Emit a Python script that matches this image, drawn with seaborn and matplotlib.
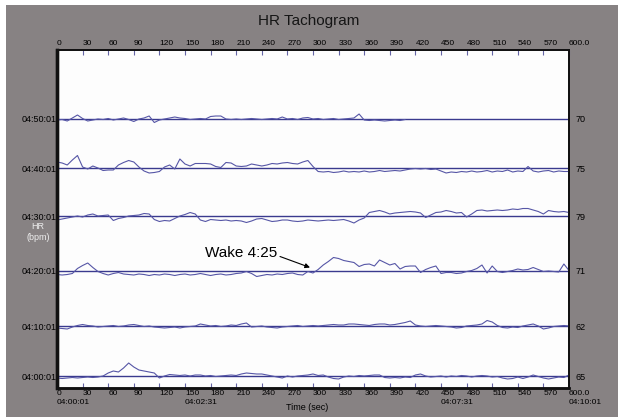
import numpy as np
import pandas as pd
import matplotlib
matplotlib.use("Agg")
import matplotlib.pyplot as plt
import matplotlib.transforms as mtransforms
from matplotlib.patches import Rectangle
import seaborn as sns

# ---------------- data ----------------
row_labels = ["04:50:01", "04:40:01", "04:30:01", "04:20:01", "04:10:01", "04:00:01"]
base_hr = [70, 75, 79, 71, 62, 65]
durations = [408, 600, 600, 600, 600, 600]

hr_0450 = [69, 69.5, 68, 71, 74, 70.5, 68, 69, 70, 69.5,
           70.5, 69, 70, 71, 69.5, 67.5, 70, 71, 73, 66.5,
           69, 70, 71, 72, 71, 70.5, 69.5, 70, 70.5, 70,
           72.5, 73, 73, 70, 69.5, 70, 69.5, 70, 70.5, 70,
           69.5, 70, 70.5, 70, 72, 70, 70.5, 69.5, 71, 71.5,
           70, 70.5, 69.5, 70, 70.5, 69.5, 70, 70.5, 71, 75,
           69, 68.5, 69, 68.5, 68, 68.5, 69, 68.5, 69.5]
hr_0440 = [81, 80, 78, 83, 87.5, 76, 74, 77, 75, 72.5,
           73, 73, 78, 80.5, 82.5, 81, 76, 72, 70, 70.5,
           71.5, 76, 78, 74, 84, 79, 77, 79.5, 79.5, 79.5,
           79, 76.5, 75.5, 80.5, 80, 77, 76.5, 77, 79, 78,
           77, 78, 79.5, 79, 80, 80.5, 79.5, 79, 81, 82.5,
           76.5, 71.5, 71, 71.5, 70.5, 71, 72, 71, 71.5, 71,
           72, 71, 71.5, 72.5, 71.5, 72, 72.5, 72, 73, 74,
           74.5, 74, 74.5, 73.5, 74, 72, 70, 71, 70.5, 71.5,
           71, 72, 71, 71.5, 72.5, 71, 72, 71.5, 73, 71,
           72, 71.5, 76.5, 72, 71, 72, 72.5, 71, 72, 71.5,
           71.5]
hr_0430 = [75, 76, 77, 78, 79, 78, 80, 81, 79, 79.5,
           80, 74.5, 76.5, 77.5, 79, 79.5, 80, 81.5, 81, 75.5,
           73.5, 74.5, 74, 76.5, 79, 80.5, 82.5, 81, 75, 73.5,
           75.5, 75, 74.5, 75, 74, 74.5, 74, 72.5, 74, 76,
           76.5, 75, 73.5, 74, 75, 75, 74, 73.5, 74, 75,
           74.5, 74, 74.5, 75, 74.5, 75, 75.5, 74, 72, 75,
           77, 82.5, 83.5, 84.5, 83, 81, 82, 82.5, 83, 83.5,
           83, 82, 77.5, 80, 82.5, 83, 84.5, 83.5, 82, 82.5,
           78, 81, 84.5, 85, 84, 84.5, 85, 84.5, 85, 86,
           85.5, 86.5, 86.5, 85, 83.5, 81, 84.5, 83.5, 83, 83.5,
           82.5]
hr_0420 = [67, 66.5, 67, 68, 73, 76, 78.5, 74, 70, 68,
           66.5, 68, 69, 67.5, 67, 66.5, 67.5, 67, 66, 67,
           66.5, 67.5, 67, 66, 67, 67.5, 66.5, 67, 68, 67,
           66, 67, 67.5, 66.5, 67, 68, 68.5, 70, 68, 65,
           66, 67, 66.5, 67.5, 67, 68, 68.5, 67, 66.5, 70,
           68.5, 72, 76.5, 80, 84, 83, 81, 80, 79, 75,
           77, 77.5, 75.5, 81.5, 79, 76.5, 78, 72.5, 75, 75.5,
           75.5, 69, 72, 74, 75.5, 68, 69, 69, 68, 68.5,
           70, 71, 73, 76.5, 68.5, 75.5, 70, 69, 70, 71,
           72.5, 71.5, 72, 74, 72, 70, 70.5, 70, 69.5, 77.5,
           71]
hr_0410 = [60, 59.5, 59, 61, 62.5, 63.5, 62.5, 62, 61, 61.5,
           62, 62.5, 61.5, 62, 63, 63.5, 62.5, 61.5, 62, 61,
           60.5, 60, 60.5, 61, 60, 61, 61.5, 62, 64, 63,
           62, 62.5, 61.5, 62, 63, 62.5, 64, 65, 61, 61.5,
           62, 61, 60.5, 60, 61, 61.5, 62, 62.5, 61.5, 62,
           62.5, 62, 62.5, 63, 63.5, 63, 63, 64, 64, 63.5,
           63, 62.5, 63.5, 64, 64, 63, 63.5, 64.5, 65.5, 67,
           63, 62, 61.5, 62, 62.5, 62, 61.5, 61, 60, 60.5,
           62, 62.5, 63, 64, 67.5, 66, 62.5, 60.5, 60, 61,
           60.5, 62, 63, 64, 62, 59, 60, 61.5, 62, 62.5,
           62]
hr_0400 = [63, 62.5, 63, 63.5, 63, 63.5, 64, 63.5, 64, 65,
           68, 70, 69, 73, 78, 74, 71, 70, 69, 68,
           63, 65, 66.5, 66, 65.5, 66, 65, 66, 66, 65,
           65.5, 64.5, 65, 65.5, 66, 65.5, 67, 68, 67.5, 67,
           67, 66, 65, 64, 63, 65, 64, 65, 65.5, 66,
           67, 65.5, 66, 64, 62.5, 62, 64, 65, 64.5, 65.5,
           65, 65.5, 66, 66, 63.5, 63, 63.5, 63, 64, 63.5,
           66, 67, 65, 64, 64.5, 65, 64, 65, 64.5, 65.5,
           65, 64, 65, 65.5, 65, 64, 64.5, 63, 62, 62.5,
           64, 62.5, 64, 66, 64.5, 63, 62, 63, 64, 63.5,
           66]
series = [hr_0450, hr_0440, hr_0430, hr_0420, hr_0410, hr_0400]

x_ticks = list(range(0, 601, 30))
tick_labels = [str(t) for t in x_ticks[:-1]] + ["600.0"]
clock_ticks = [0, 150, 450, 600]
clock_labels = ["04:00:01", "04:02:31", "04:07:31", "04:10:01"]

# ---------------- layout / style ----------------
row_pos = [269, 220, 172, 117.5, 62, 12]   # vertical position of each row (px units)
px_per_bpm = 1.0
trace_color = "#5656a6"
base_color = "#3a3a8e"
tick_color = "#6464a4"

sns.set_theme(style="white")
plt.rcParams["font.family"] = ["Liberation Sans", "DejaVu Sans"]

frames = []
for lab, b, dur, vals, pos in zip(row_labels, base_hr, durations, series, row_pos):
    t = np.linspace(0, dur, len(vals))
    v = np.asarray(vals, dtype=float)
    frames.append(pd.DataFrame({"time": t, "hr": v, "row": lab,
                                "y": pos + (v - b) * px_per_bpm}))
df = pd.concat(frames, ignore_index=True)

W, H = 618, 417
fig = plt.figure(figsize=(W / 100, H / 100), dpi=100)
fig.patch.set_facecolor("white")
fig.patches.append(Rectangle((6 / W, 0), 1 - 6 / W, 1 - 5 / H, transform=fig.transFigure,
                             facecolor="#878283", edgecolor="none", zorder=-10))

L, R, T, B = 57, 569, 50, 388
ax = fig.add_axes([L / W, 1 - B / H, (R - L) / W, (B - T) / H])
ax.set_facecolor("#fdfdfd")

for pos in row_pos:
    ax.axhline(pos, color=base_color, lw=1.0, zorder=2)

sns.lineplot(data=df, x="time", y="y", units="row", estimator=None,
             color=trace_color, lw=0.8, ax=ax, zorder=3)

ax.set_xlim(0, 600)
ax.set_ylim(0, B - T)
ax.set_xlabel("")
ax.set_ylabel("")

# bottom x tick labels
ax.set_xticks(x_ticks)
ax.set_xticklabels(tick_labels, ha="left")
ax.set_xticks([150, 450], minor=True)
ax.tick_params(axis="x", which="major", direction="in", length=3.8, width=0.8,
               color=tick_color, top=True, bottom=True, labeltop=False, labelbottom=True,
               labelsize=6, pad=1.5, labelcolor="black")
ax.tick_params(axis="x", which="minor", direction="in", length=8.5, width=0.8,
               color=tick_color, top=True, bottom=True)

# clock times under selected ticks
btrans = mtransforms.blended_transform_factory(ax.transData, fig.transFigure)
for t, lab in zip(clock_ticks, clock_labels):
    ax.text(t, 1 - 402.5 / H, lab, transform=btrans, ha="left", va="center",
            fontsize=6, color="black", clip_on=False)

# top x tick labels
sec = ax.secondary_xaxis("top")
sec.set_xticks(x_ticks)
sec.set_xticklabels(tick_labels, ha="left")
sec.tick_params(axis="x", length=0, pad=2, labelsize=6, labelcolor="black")
sec.spines["top"].set_visible(False)

# left row labels
ax.set_yticks(row_pos)
ax.set_yticklabels(row_labels)
ax.tick_params(axis="y", length=0, pad=0, labelsize=6.5, labelcolor="black")

# right base-HR labels
ax2 = ax.twinx()
ax2.set_ylim(ax.get_ylim())
ax2.set_yticks(row_pos)
ax2.set_yticklabels([str(b) for b in base_hr])
ax2.tick_params(axis="y", length=0, pad=4.5, labelsize=6.5, labelcolor="black")
ax2.grid(False)
ax.grid(False)

for a in (ax, ax2):
    for s in a.spines.values():
        s.set_color("#111111")
        s.set_linewidth(1.3)
    a.spines["left"].set_linewidth(2.4)
    a.spines["bottom"].set_linewidth(1.8)

# annotation
x_of = lambda px: (px - L) * 600 / (R - L)
y_of = lambda py: B - py
ax.annotate("", xy=(x_of(310), y_of(267.5)), xytext=(x_of(280), y_of(256.5)),
            arrowprops=dict(arrowstyle="-|>", color="black", lw=0.8,
                            mutation_scale=7, shrinkA=0, shrinkB=0), zorder=5)
ax.text(x_of(277), y_of(253), "Wake 4:25", ha="right", va="center",
        fontsize=11, color="black", zorder=5)

fig.text(309 / W, 1 - 21 / H, "HR Tachogram", ha="center", va="center",
         fontsize=11, color="#151515")
fig.text(307 / W, 1 - 407 / H, "Time (sec)", ha="center", va="center",
         fontsize=6.5, color="black")
fig.text(38 / W, 1 - 227 / H, "HR", ha="center", va="center", fontsize=6.5, color="#eeeeee")
fig.text(38 / W, 1 - 238 / H, "(bpm)", ha="center", va="center", fontsize=6.5, color="#eeeeee")

fig.savefig("out.png", dpi=100, facecolor=fig.get_facecolor())
